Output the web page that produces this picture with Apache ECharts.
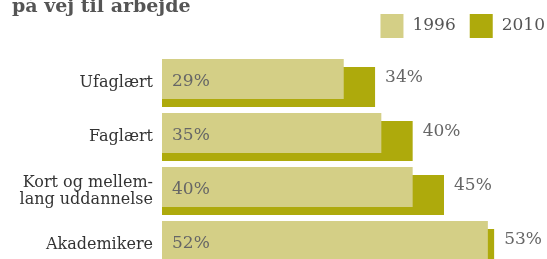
<!DOCTYPE html>
<html>
<head>
<meta charset="utf-8">
<script src="https://cdn.jsdelivr.net/npm/echarts@6/dist/echarts.min.js"></script>
<style>
  html, body { margin: 0; padding: 0; background: #fff; }
  #box { width: 547px; height: 259px; }
</style>
</head>
<body>
<div id="box"></div>
<script>
var categories = ['Ufaglært', 'Faglært', 'Kort og mellem-\nlang uddannelse', 'Akademikere'];
var values1996 = [29, 35, 40, 52];
var values2010 = [34, 40, 45, 53];
var seriesNames = ['1996', '2010'];

var serif = 'DejaVu Serif';
var myChart = echarts.init(document.getElementById('box'));

var option = {
  animation: false,
  title: {
    text: 'på vej til arbejde',
    left: 12,
    top: -2,
    padding: 0,
    textStyle: {
      fontFamily: serif,
      fontSize: 19,
      fontWeight: 'bold',
      color: '#555',
      lineHeight: 19
    }
  },
  legend: {
    data: seriesNames,
    right: 2,
    top: 14,
    padding: 0,
    icon: 'rect',
    itemWidth: 23,
    itemHeight: 24,
    itemGap: 14,
    textStyle: {
      fontFamily: serif,
      fontSize: 17,
      color: '#555',
      padding: [3, 0, 0, 4]
    }
  },
  grid: {
    left: 162,
    right: 9,
    top: 56,
    height: 216,
    outerBoundsMode: 'none'
  },
  xAxis: {
    type: 'value',
    min: 0,
    max: 60,
    show: false
  },
  yAxis: {
    type: 'category',
    data: categories,
    inverse: true,
    axisLine: { show: false },
    axisTick: { show: false },
    axisLabel: {
      margin: 9,
      fontFamily: serif,
      fontSize: 16,
      lineHeight: 17,
      color: '#333'
    }
  },
  series: [
    {
      name: '1996',
      type: 'bar',
      data: values1996,
      barWidth: 40,
      barGap: '-80%',
      z: 3,
      itemStyle: { color: '#d4cf86' },
      label: {
        show: true,
        position: 'insideLeft',
        distance: 10,
        offset: [0, 3],
        formatter: '{c}%',
        fontFamily: serif,
        fontSize: 17,
        color: '#666'
      }
    },
    {
      name: '2010',
      type: 'bar',
      data: values2010,
      barWidth: 40,
      barGap: '-80%',
      z: 2,
      itemStyle: { color: '#aeaa0c' },
      label: {
        show: true,
        position: 'right',
        distance: 10,
        offset: [0, -9],
        formatter: '{c}%',
        fontFamily: serif,
        fontSize: 17,
        color: '#666'
      }
    }
  ]
};
myChart.setOption(option);
</script>
</body>
</html>
